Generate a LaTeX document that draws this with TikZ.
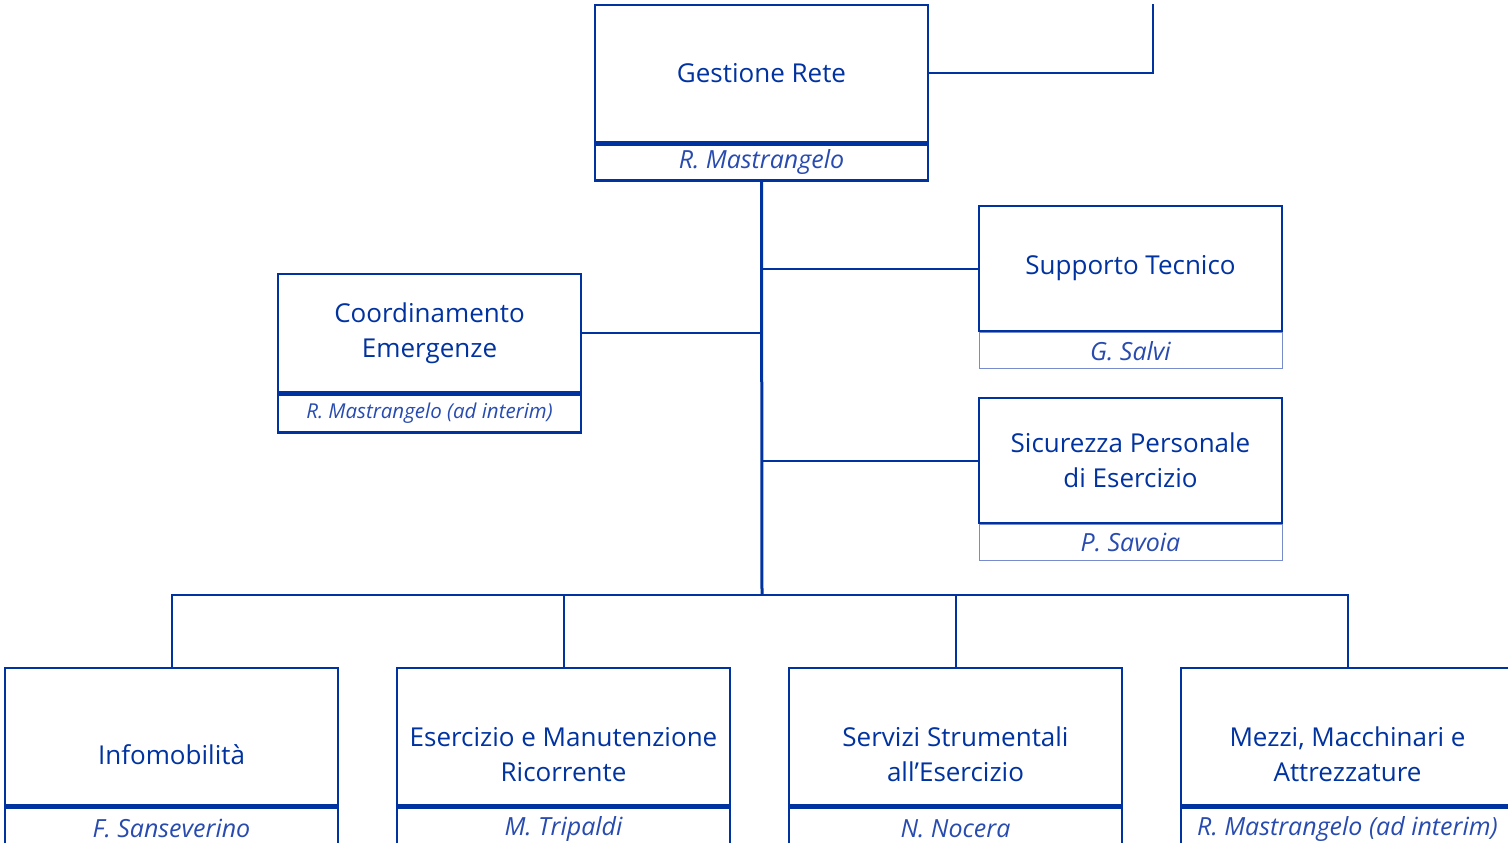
\documentclass[tikz,border=0pt]{standalone}
\usepackage{fontspec}
\setmainfont{Open Sans}
\definecolor{orgblue}{RGB}{0,51,160}
\definecolor{nameblue}{RGB}{40,75,175}
\definecolor{thinblue}{RGB}{120,140,205}
\usepackage{tikz}
\usetikzlibrary{positioning,calc}

\begin{document}
\begin{tikzpicture}[x=1pt,y=-1pt,
  box/.style={draw=orgblue,line width=2.6pt,fill=white,
              minimum width=333pt,minimum height=137pt,inner sep=2pt,
              font=\fontsize{26}{35}\selectfont,text=orgblue,align=center},
  smallbox/.style={box,minimum width=303pt,minimum height=125pt},
  namebar/.style={draw=orgblue,line width=2.4pt,
                  minimum width=333pt,minimum height=36pt,inner sep=0pt,
                  font=\fontsize{25}{28}\itshape,text=nameblue,anchor=north},
  thinbar/.style={namebar,draw=thinblue,line width=1pt,minimum width=303pt},
  title/.style={font=\fontsize{26}{35}\selectfont,text=orgblue,align=center},
  conn/.style={draw=orgblue,line width=2pt}
]
  \useasboundingbox (0,0) rectangle (1508,843);
  \clip (0,0) rectangle (1508,843);
  % Level 0
  \node[box] (gest) at (761.5,73.5) {Gestione Rete};
  \node[namebar] (gestN) at (gest.south) {R. Mastrangelo};
  \coordinate (up) at (1153,4);
  \draw[conn] (gest.east) -| (up);
  % staff units
  \node[smallbox] (supp) at (1130.5,268.5) {Supporto Tecnico};
  \node[thinbar] (suppN) at (supp.south) {G. Salvi};
  \node[smallbox] (sicu) at (1130.5,460.5) {Sicurezza Personale\\ di Esercizio};
  \node[thinbar] (sicuN) at (sicu.south) {P. Savoia};
  \node[smallbox,minimum height=118pt] (coord) at (429.5,333) {Coordinamento\\Emergenze};
  \node[namebar,minimum width=303pt,minimum height=38pt,
        font=\fontsize{20.5}{24}\itshape] (coordN) at (coord.south) {R. Mastrangelo (ad interim)};
  % Level 1
  \foreach \n/\x in {info/171.5,eser/563.5,serv/955.5,mezz/1347.5}{
    \node[box] (\n) at (\x,736.5) {};
  }
  \node[title] (infoT) at ([yshift=-18pt]info.center) {Infomobilit\`a};
  \node[title] (eserT) at ([yshift=-18pt]eser.center) {Esercizio e Manutenzione\\Ricorrente};
  \node[title] (servT) at ([yshift=-18pt]serv.center) {Servizi Strumentali\\all’Esercizio};
  \node[title] (mezzT) at ([yshift=-18pt]mezz.center) {Mezzi, Macchinari e\\Attrezzature};
  \node[namebar,minimum height=42pt] (infoN) at (info.south) {F. Sanseverino};
  \node[namebar,minimum height=42pt] (eserN) at (eser.south) {M. Tripaldi};
  \node[namebar,minimum height=42pt] (servN) at (serv.south) {N. Nocera};
  \node[namebar,minimum height=42pt] (mezzN) at (mezz.south) {R. Mastrangelo (ad interim)};
  % connectors
  \coordinate (hub) at (762,595);
  \draw[conn,line width=3pt] (gestN.south) -- (hub);
  \draw[conn] (supp.west) -- (supp.west -| hub);
  \draw[conn] (sicu.west) -- (sicu.west -| hub);
  \draw[conn] (coord.east) -- (coord.east -| hub);
  \draw[conn] (info.north) |- (hub) -| (mezz.north);
  \draw[conn] (eser.north) -- (eser.north |- hub);
  \draw[conn] (serv.north) -- (serv.north |- hub);
\end{tikzpicture}
\end{document}
